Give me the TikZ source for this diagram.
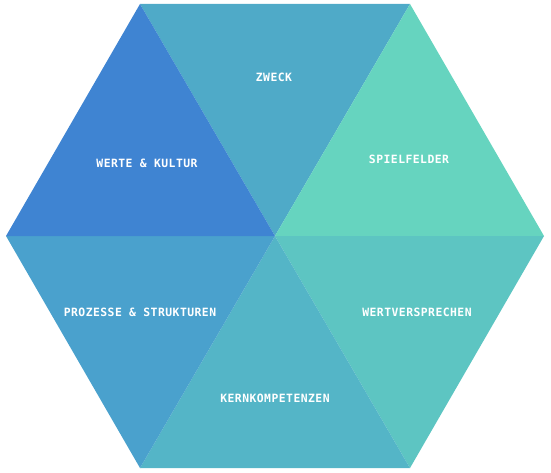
\documentclass[tikz,border=0pt]{standalone}
\usepackage{fontspec}
\newfontfamily\labelfont[LetterSpace=4]{DejaVu Sans Mono Bold}
\definecolor{cTL}{HTML}{3F84D2}
\definecolor{cT}{HTML}{4FAAC8}
\definecolor{cTR}{HTML}{66D4BF}
\definecolor{cBR}{HTML}{5DC5C2}
\definecolor{cB}{HTML}{54B5C7}
\definecolor{cBL}{HTML}{4AA1CD}
\begin{document}
\begin{tikzpicture}[x=1pt,y=-1pt,
  seg/.style={line join=round},
  lbl/.style={text=white,font=\labelfont\fontsize{11.4}{12}\selectfont,inner sep=0pt}]
\useasboundingbox (0,0) rectangle (551,473);
\coordinate (A) at (140,4);
\coordinate (B) at (410,4);
\coordinate (C) at (544,236);
\coordinate (D) at (410,468);
\coordinate (E) at (140,468);
\coordinate (F) at (6,236);
\coordinate (O) at (275,236);
\fill[cT,seg] (A) -- (B) -- (O) -- cycle;
\fill[cTR,seg] (B) -- (C) -- (O) -- cycle;
\fill[cBR,seg] (C) -- (D) -- (O) -- cycle;
\fill[cB,seg] (D) -- (E) -- (O) -- cycle;
\fill[cBL,seg] (E) -- (F) -- (O) -- cycle;
\fill[cTL,seg] (F) -- (A) -- (O) -- cycle;
\node[lbl] (l1) at (147,163) {WERTE \& KULTUR};
\node[lbl] (l2) at (274,77) {ZWECK};
\node[lbl] (l3) at (409,159) {SPIELFELDER};
\node[lbl] (l4) at (140,312) {PROZESSE \& STRUKTUREN};
\node[lbl] (l5) at (417,312) {WERTVERSPRECHEN};
\node[lbl] (l6) at (275,398) {KERNKOMPETENZEN};
\end{tikzpicture}
\end{document}
